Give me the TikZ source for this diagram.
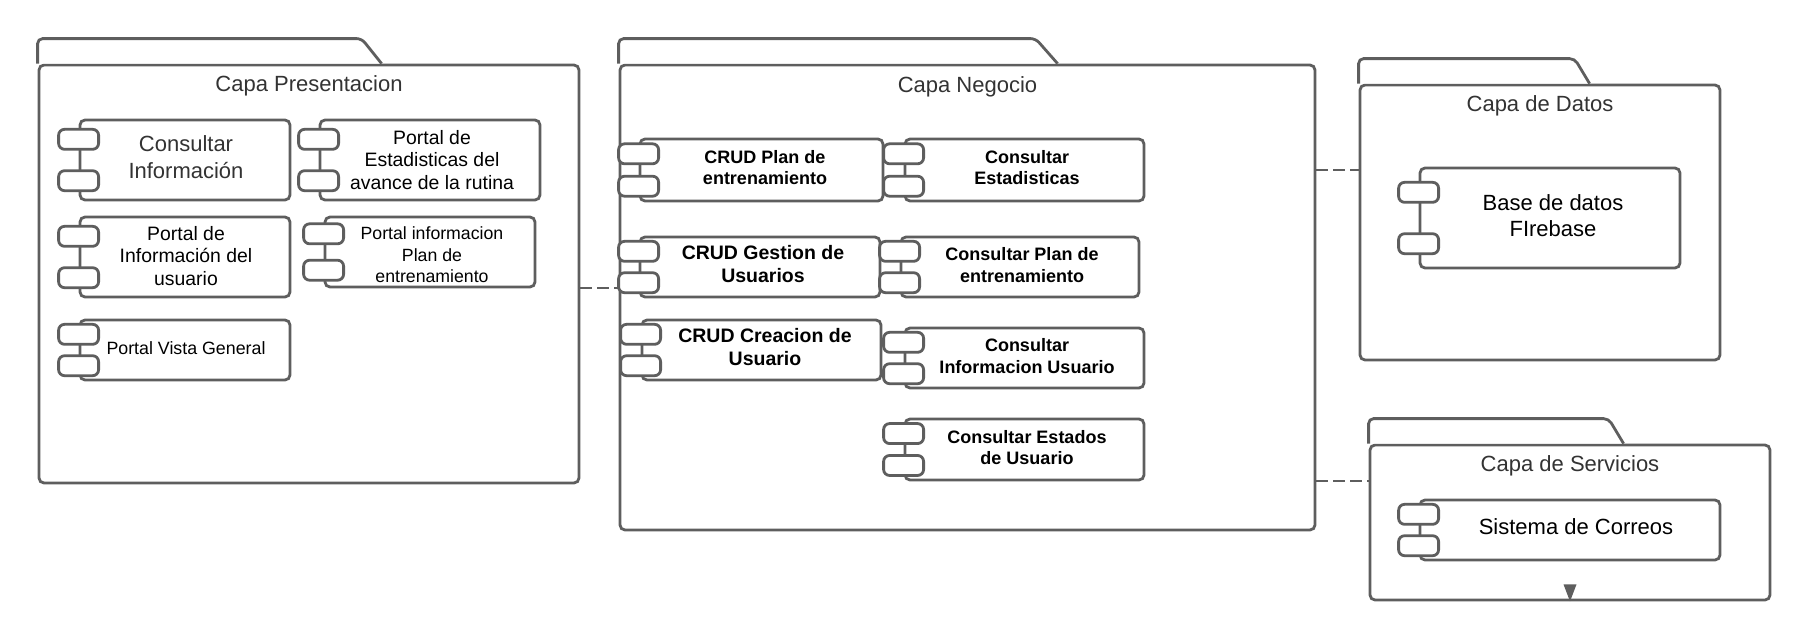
\documentclass[tikz,border=0pt]{standalone}
\usepackage{fontspec}
\setmainfont{Liberation Sans}
\usepackage{tikz}
\usetikzlibrary{calc}
\definecolor{linegray}{HTML}{5E5E5E}
\definecolor{titlegray}{HTML}{333333}

\begin{document}
\begin{tikzpicture}[x=1pt,y=-1pt,
    pkg/.style={draw=linegray,line width=2.8pt,rounded corners=5pt,fill=white,inner sep=0pt},
    comp/.style={draw=linegray,line width=2.8pt,rounded corners=5pt,fill=white,inner sep=0pt},
    port/.style={draw=linegray,line width=2.8pt,rounded corners=6pt,fill=white,
      minimum width=40pt,minimum height=20pt,inner sep=0pt},
    ttl/.style={text=titlegray,font=\fontsize{22}{26}\selectfont},
    lbl/.style={align=center,text=black,inner sep=0pt},
    dep/.style={draw=linegray,line width=2.8pt,dash pattern=on 12pt off 5pt}]
          \useasboundingbox (0,0) rectangle (1810,643);
          % packages
          \node[pkg,minimum width=540pt,minimum height=418pt] (pres) at (309,274) {};
          \node[pkg,minimum width=695pt,minimum height=465pt] (neg) at (967.5,297.5) {};
          \node[pkg,minimum width=360pt,minimum height=275pt] (datos) at (1540,222.5) {};
          \node[pkg,minimum width=400pt,minimum height=155pt] (serv) at (1570,522.5) {};
          \draw[pkg] (pres.north west)--++(0,-25)--++(324,0)--++(20,25);
          \draw[pkg] (neg.north west)--++(0,-25)--++(417,0)--++(22,25);
          \draw[pkg] (datos.north west)--++(0,-25)--++(216,0)--++(15,25);
          \draw[pkg] (serv.north west)--++(0,-25)--++(240,0)--++(15,25);
          \node[ttl] (presT) at ($(pres.north)+(0,22)$) {Capa Presentacion};
          \node[ttl] (negT) at ($(neg.north)+(0,23)$) {Capa Negocio};
          \node[ttl] (datosT) at ($(datos.north)+(0,22)$) {Capa de Datos};
          \node[ttl] (servT) at ($(serv.north)+(0,22)$) {Capa de Servicios};
          % components
          \node[comp,minimum width=210pt,minimum height=80pt] (c1) at (185,160) {};
          \node[comp,minimum width=220pt,minimum height=80pt] (c2) at (430,160) {};
          \node[comp,minimum width=210pt,minimum height=80pt] (c3) at (185,257) {};
          \node[comp,minimum width=210pt,minimum height=70pt] (c4) at (430,252) {};
          \node[comp,minimum width=210pt,minimum height=60pt] (c5) at (185,350) {};
          \node[comp,minimum width=243pt,minimum height=62pt] (n1) at (761.5,170) {};
          \node[comp,minimum width=239pt,minimum height=62pt] (n2) at (1024.5,170) {};
          \node[comp,minimum width=240pt,minimum height=60pt] (n3) at (760,267) {};
          \node[comp,minimum width=238pt,minimum height=60pt] (n4) at (1020,267) {};
          \node[comp,minimum width=239pt,minimum height=60pt] (n5) at (761.5,350) {};
          \node[comp,minimum width=239pt,minimum height=60pt] (n6) at (1024.5,358) {};
          \node[comp,minimum width=239pt,minimum height=61pt] (n7) at (1024.5,449.5) {};
          \node[comp,minimum width=260pt,minimum height=100pt] (d1) at (1550,218) {};
          \node[comp,minimum width=300pt,minimum height=60pt] (s1) at (1570,530) {};
          \foreach \c in {c1,c2,c3,c4,c5,n1,n2,n3,n4,n5,n6,n7,d1,s1}{
            \node[port] (\c p1) at ($(\c.north west)!.5!(\c.west)$) {};
            \node[port] (\c p2) at ($(\c.south west)!.5!(\c.west)$) {};
          }
          % labels
          \node[lbl,text=titlegray,font=\fontsize{22}{27}\selectfont] (c1t) at (186,157) {Consultar\\Información};
          \node[lbl,font=\fontsize{19.4}{22.5}\selectfont] (c2t) at (432,160) {Portal de\\Estadisticas del\\avance de la rutina};
          \node[lbl,font=\fontsize{19.4}{22.5}\selectfont] (c3t) at (186,256) {Portal de\\Información del\\usuario};
          \node[lbl,font=\fontsize{17.7}{21.5}\selectfont] (c4t) at (432,255) {Portal informacion\\Plan de\\entrenamiento};
          \node[lbl,font=\fontsize{17.8}{21.5}\selectfont] (c5t) at (186,348) {Portal Vista General};
          \node[lbl,font=\bfseries\fontsize{18}{21.5}\selectfont] (n1t) at (765,167.5) {CRUD Plan de\\entrenamiento};
          \node[lbl,font=\bfseries\fontsize{18}{21.5}\selectfont] (n2t) at (1027,167.5) {Consultar\\Estadisticas};
          \node[lbl,font=\bfseries\fontsize{19.5}{23}\selectfont] (n3t) at (763,264.5) {CRUD Gestion de\\Usuarios};
          \node[lbl,font=\bfseries\fontsize{18}{21.5}\selectfont] (n4t) at (1022,265) {Consultar Plan de\\entrenamiento};
          \node[lbl,font=\bfseries\fontsize{19.5}{23}\selectfont] (n5t) at (765,347.5) {CRUD Creacion de\\Usuario};
          \node[lbl,font=\bfseries\fontsize{18}{21.5}\selectfont] (n6t) at (1027,356) {Consultar\\Informacion Usuario};
          \node[lbl,font=\bfseries\fontsize{18}{21.5}\selectfont] (n7t) at (1027,447.5) {Consultar Estados\\de Usuario};
          \node[lbl,font=\fontsize{22}{26}\selectfont] (d1t) at (1553,216) {Base de datos\\FIrebase};
          \node[lbl,font=\fontsize{22}{26}\selectfont] (s1t) at (1576,527) {Sistema de Correos};
          % dependencies
          \draw[dep] (pres.east |- 0,288)--(neg.west |- 0,288);
          \draw[dep] (neg.east |- 0,170)--(datos.west |- 0,170);
          \draw[dep] (neg.east |- 0,481)--(serv.west |- 0,481);
          \fill[linegray] (serv.south)--++(-6.5,-17)--++(13,0)--cycle;
        \end{tikzpicture}
\end{document}
